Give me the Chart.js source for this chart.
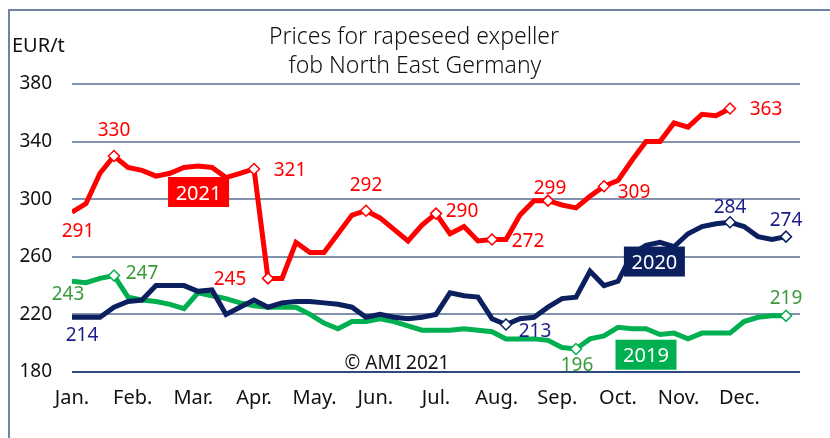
<!DOCTYPE html>
<html>
<head>
<meta charset="utf-8">
<script src="https://cdn.jsdelivr.net/npm/chart.js@4"></script>
<style>
  html, body { margin: 0; padding: 0; background: #fff; }
  canvas { display: block; }
</style>
</head>
<body>
<canvas id="myChart" width="830" height="438"></canvas>
<script>
// weekly prices, EUR/t
const months = ['Jan.', 'Feb.', 'Mar.', 'Apr.', 'May.', 'Jun.', 'Jul.', 'Aug.', 'Sep.', 'Oct.', 'Nov.', 'Dec.'];
const yTicks = [180, 220, 260, 300, 340, 380];

const price2021 = [291, 297, 318, 330, 322, 320, 316, 318, 322, 323, 322, 315, 318, 321, 245, 245,
    270, 263, 263, 276, 289, 292, 287, 279, 271, 282, 290, 276, 281, 271, 272, 272,
    289, 299, 299, 296, 294, 302, 309, 313, 327, 340, 340, 353, 350, 359, 358, 363];
const price2020 = [218, 218, 218, 225, 229, 230, 240, 240, 240, 236, 237, 220, 225, 230, 225, 228,
    229, 229, 228, 227, 225, 218, 220, 218, 217, 218, 220, 235, 233, 232, 217, 213,
    217, 218, 225, 231, 232, 250, 240, 243, 262, 268, 270, 267, 276, 281, 283, 284,
    281, 274, 272, 274];
const price2019 = [243, 242, 245, 247, 232, 230, 229, 227, 224, 235, 233, 231, 228, 226, 225, 225,
    225, 220, 214, 210, 215, 215, 217, 215, 212, 209, 209, 209, 210, 209, 208, 203,
    203, 203, 202, 197, 196, 203, 205, 211, 210, 210, 206, 207, 203, 207, 207, 207,
    215, 218, 219, 219];

// weeks that carry a diamond marker
const marks2021 = [3, 13, 14, 21, 26, 30, 34, 38, 47];
const marks2020 = [31, 47, 51];
const marks2019 = [3, 36, 51];

// printed value labels: [dataset, week, text]
const valueLabels = [
    [0, 0, '291'], [0, 3, '330'], [0, 13, '321'], [0, 14, '245'], [0, 21, '292'],
    [0, 26, '290'], [0, 30, '272'], [0, 34, '299'], [0, 38, '309'], [0, 47, '363'],
    [1, 0, '214'], [1, 31, '213'], [1, 47, '284'], [1, 51, '274'],
    [2, 0, '243'], [2, 3, '247'], [2, 36, '196'], [2, 51, '219']
];
// label offsets from the point, px (same order as valueLabels)
const labelOffsets = [
    [6, 18], [0, -27], [36, 0], [-38, 0], [0, -27],
    [26, -4], [36, 0], [2, -14], [30, 5], [36, 0],
    [10, 17], [29, 6], [0, -16], [0, -18],
    [-4, 12], [28, -4], [1, 15], [0, -19]
];

const colors = ['#ff0000', '#0c1f5e', '#00b050'];
const labelColors = ['#ff0000', '#1b1b8a', '#3a9a3a'];

const toPoints = arr => arr.map((v, i) => ({ x: i, y: v }));
const markerRadius = list => c => list.includes(c.dataIndex) ? 5.5 : 0;

const yearBoxes = [
    { text: '2021', week: 9.04, value: 305, color: '#ff0000' },
    { text: '2020', week: 41.6, value: 256.7, color: '#0c1f5e' },
    { text: '2019', week: 41.0, value: 192, color: '#00b050' }
];

const decorations = {
    id: 'decorations',
    beforeDraw(chart) {
        const c = chart.ctx;
        c.save();
        c.strokeStyle = '#6f83a3';
        c.lineWidth = 2;
        c.beginPath();
        c.moveTo(9, 438);
        c.lineTo(9, 10);
        c.lineTo(830, 10);
        c.stroke();

        c.fillStyle = '#111';
        c.textAlign = 'center';
        c.textBaseline = 'alphabetic';
        c.font = '300 23px "Noto Sans"';
        c.fillText('Prices for rapeseed expeller', 414, 44);
        c.fillText('fob North East Germany', 415, 73);

        c.textAlign = 'left';
        c.font = '20px "Noto Sans"';
        c.fillText('EUR/t', 12, 52);
        c.restore();
    },
    afterDatasetsDraw(chart) {
        const c = chart.ctx;
        const xs = chart.scales.x, ys = chart.scales.y;
        c.save();
        c.textAlign = 'center';
        c.textBaseline = 'alphabetic';

        c.fillStyle = '#111';
        c.font = '19px "Noto Sans"';
        c.fillText('\u00a9 AMI 2021', 397, 369);

        valueLabels.forEach(([d, i, t], k) => {
            const p = chart.getDatasetMeta(d).data[i];
            c.fillStyle = labelColors[d];
            c.font = '19px "Noto Sans"';
            c.fillText(t, p.x + labelOffsets[k][0], p.y + labelOffsets[k][1] + 7);
        });

        yearBoxes.forEach(b => {
            const cx = xs.getPixelForValue(b.week);
            const cy = ys.getPixelForValue(b.value);
            c.fillStyle = b.color;
            c.fillRect(cx - 30.5, cy - 15, 61, 30);
            c.fillStyle = '#fff';
            c.font = '20px "Noto Sans"';
            c.fillText(b.text, cx, cy + 7.5);
        });
        c.restore();
    }
};

const ctx = document.getElementById('myChart');

new Chart(ctx, {
    type: 'line',
    data: {
        datasets: [
            { label: '2021', data: toPoints(price2021), borderColor: colors[0], pointRadius: markerRadius(marks2021) },
            { label: '2020', data: toPoints(price2020), borderColor: colors[1], pointRadius: markerRadius(marks2020) },
            { label: '2019', data: toPoints(price2019), borderColor: colors[2], pointRadius: markerRadius(marks2019) }
        ].map((ds, i) => Object.assign(ds, {
            borderWidth: 5,
            tension: 0,
            pointStyle: 'rectRot',
            pointBackgroundColor: '#fff',
            pointBorderColor: colors[i],
            pointBorderWidth: 1.5,
            pointHoverRadius: 0
        }))
    },
    options: {
        responsive: false,
        animation: false,
        events: [],
        layout: { padding: { left: 0, right: 30, top: 84, bottom: 0 } },
        scales: {
            x: {
                type: 'linear',
                min: 0,
                max: 52,
                afterFit: s => { s.height = 66; },
                afterBuildTicks: s => { s.ticks = months.map((m, i) => ({ value: i * 52 / 12 })); },
                grid: { display: false },
                border: { display: false },
                ticks: {
                    autoSkip: false,
                    maxRotation: 0,
                    padding: 6,
                    color: '#111',
                    font: { family: 'Noto Sans', size: 20 },
                    callback: (v, i) => months[i]
                }
            },
            y: {
                min: 180,
                max: 380,
                afterFit: s => { s.width = 72; },
                afterBuildTicks: s => { s.ticks = yTicks.map(v => ({ value: v })); },
                border: { display: false },
                grid: {
                    drawTicks: false,
                    lineWidth: 2,
                    color: c => c.tick.value === 180 ? '#2c4a7c' : '#8292ad'
                },
                ticks: {
                    padding: 20,
                    color: '#111',
                    font: { family: 'Noto Sans', size: 19 }
                }
            }
        },
        plugins: {
            legend: { display: false },
            tooltip: { enabled: false }
        }
    },
    plugins: [decorations]
});
</script>
</body>
</html>
